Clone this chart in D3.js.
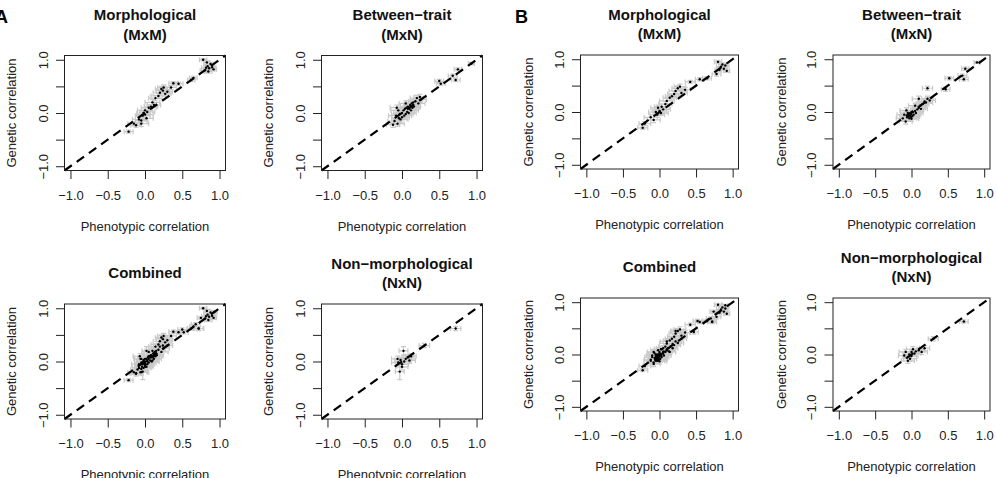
<!DOCTYPE html>
<html>
<head>
<meta charset="utf-8">
<script src="https://cdnjs.cloudflare.com/ajax/libs/d3/7.8.5/d3.min.js"></script>
<style>
	body { margin: 0; background: #fff; }
	svg { display: block; font-family: "Liberation Sans", Arial, sans-serif; }
</style>
</head>
<body>
<script>
// tick values shared by every panel
var axisTicks = [-1, -0.5, 0, 0.5, 1];
var axisLabelTicks = [-1, 0, 1];

// [phenotypic r, genetic r, phenotypic half-error, genetic half-error]
var morphA = [
	[-0.22,-0.35,0.06,0.03],[-0.15,-0.20,0.08,0.04],[-0.12,-0.23,0.07,0.04],[-0.08,-0.12,0.09,0.05],
	[-0.05,-0.20,0.10,0.05],[-0.05,-0.14,0.08,0.04],[-0.03,-0.05,0.10,0.05],[-0.02,0.00,0.09,0.05],
	[0.00,-0.03,0.11,0.05],[0.00,0.05,0.10,0.05],[0.02,-0.10,0.09,0.05],[0.03,0.02,0.10,0.04],
	[0.05,0.10,0.10,0.05],[0.08,0.12,0.09,0.04],[0.10,0.20,0.10,0.05],[0.12,0.15,0.09,0.04],
	[0.14,0.28,0.09,0.05],[0.18,0.32,0.10,0.05],[0.20,0.38,0.09,0.05],[0.22,0.45,0.08,0.05],
	[0.24,0.42,0.09,0.04],[0.25,0.48,0.08,0.05],[0.27,0.36,0.08,0.04],[0.30,0.40,0.07,0.04],
	[0.35,0.48,0.07,0.04],[0.38,0.56,0.06,0.03],[0.45,0.55,0.06,0.03],[0.62,0.62,0.05,0.03],
	[0.65,0.66,0.05,0.03],[0.78,1.00,0.05,0.02],[0.80,0.80,0.06,0.04],[0.82,0.85,0.06,0.04],
	[0.84,0.88,0.05,0.03],[0.86,0.84,0.06,0.04],[0.88,0.92,0.05,0.03],[0.85,0.78,0.05,0.03],
	[0.90,0.86,0.05,0.03],[0.83,0.95,0.04,0.03],[0.92,0.82,0.04,0.03]
];
var betweenA = [
	[-0.10,-0.15,0.09,0.05],[-0.08,-0.05,0.10,0.05],[-0.06,-0.20,0.09,0.05],[-0.05,0.05,0.10,0.05],
	[-0.04,-0.10,0.10,0.05],[-0.03,-0.02,0.11,0.05],[-0.02,-0.12,0.10,0.05],[0.00,0.00,0.11,0.05],
	[0.00,-0.08,0.10,0.05],[0.02,0.05,0.10,0.05],[0.03,-0.05,0.10,0.05],[0.04,0.08,0.10,0.05],
	[0.05,-0.02,0.10,0.05],[0.06,0.10,0.10,0.05],[0.07,0.02,0.10,0.05],[0.08,0.12,0.10,0.05],
	[0.09,0.00,0.10,0.05],[0.10,0.08,0.10,0.05],[0.11,0.15,0.09,0.05],[0.12,0.05,0.10,0.05],
	[0.13,0.18,0.09,0.05],[0.14,0.10,0.10,0.05],[0.15,0.20,0.09,0.05],[0.16,0.12,0.09,0.05],
	[0.18,0.22,0.09,0.05],[0.20,0.28,0.09,0.05],[0.22,0.18,0.09,0.05],[0.24,0.30,0.08,0.05],
	[0.25,0.25,0.08,0.05],[-0.07,0.10,0.09,0.05],[-0.12,-0.22,0.09,0.05],[0.05,0.18,0.09,0.05],
	[0.50,0.60,0.06,0.03],[0.52,0.55,0.06,0.03],[0.68,0.70,0.06,0.03],[0.72,0.62,0.06,0.03],
	[0.75,0.82,0.05,0.03],[0.93,0.93,0.04,0.02]
];
var nonmorphA = [
	[-0.05,-0.02,0.09,0.06],[-0.03,-0.19,0.06,0.15],[-0.02,0.03,0.08,0.05],[0.00,-0.05,0.09,0.06],
	[0.02,0.20,0.06,0.08],[0.03,0.00,0.09,0.05],[0.05,0.05,0.08,0.05],[0.08,0.08,0.08,0.05],
	[0.10,0.02,0.08,0.05],[0.12,0.10,0.07,0.05],[-0.06,0.05,0.08,0.05],[0.00,-0.10,0.08,0.06],
	[0.30,0.30,0.07,0.04],[0.72,0.62,0.07,0.04]
];

var morphB = [
	[-0.23,-0.30,0.07,0.03],[-0.20,-0.22,0.08,0.04],[-0.12,-0.10,0.09,0.05],[-0.08,-0.15,0.09,0.05],
	[-0.05,0.00,0.10,0.05],[-0.03,-0.05,0.10,0.05],[-0.02,0.08,0.10,0.05],[0.00,0.02,0.10,0.05],
	[0.02,-0.02,0.10,0.05],[0.03,0.10,0.10,0.05],[0.05,0.05,0.10,0.05],[0.08,0.15,0.09,0.05],
	[0.10,0.21,0.10,0.05],[0.14,0.27,0.09,0.05],[0.17,0.30,0.09,0.05],[0.20,0.34,0.09,0.05],
	[0.22,0.40,0.09,0.05],[0.25,0.45,0.08,0.05],[0.28,0.48,0.08,0.05],[0.30,0.36,0.08,0.04],
	[0.35,0.42,0.07,0.04],[0.42,0.57,0.07,0.03],[0.55,0.62,0.06,0.03],[0.65,0.64,0.06,0.03],
	[0.78,0.72,0.06,0.04],[0.80,0.95,0.05,0.03],[0.82,0.80,0.06,0.04],[0.84,0.86,0.06,0.04],
	[0.86,0.90,0.05,0.03],[0.88,0.82,0.05,0.03],[0.90,0.88,0.05,0.03],[0.92,0.78,0.04,0.03]
];
var betweenB = [
	[-0.12,-0.12,0.09,0.05],[-0.10,-0.05,0.10,0.05],[-0.08,-0.18,0.09,0.05],[-0.06,-0.10,0.10,0.05],
	[-0.05,-0.02,0.10,0.05],[-0.04,-0.08,0.10,0.05],[-0.03,-0.12,0.10,0.05],[-0.02,-0.06,0.10,0.05],
	[-0.01,-0.10,0.10,0.05],[0.00,-0.04,0.10,0.05],[0.00,-0.13,0.10,0.05],[0.01,-0.08,0.10,0.05],
	[0.02,0.00,0.10,0.05],[0.03,-0.05,0.10,0.05],[0.05,0.02,0.10,0.05],[0.06,-0.02,0.10,0.05],
	[0.08,0.05,0.09,0.05],[0.10,0.08,0.09,0.05],[0.12,0.12,0.09,0.05],[0.13,0.06,0.09,0.05],
	[0.15,0.15,0.09,0.05],[0.18,0.20,0.09,0.05],[0.20,0.18,0.09,0.05],[0.22,0.25,0.08,0.05],
	[0.25,0.22,0.08,0.05],[0.10,0.25,0.09,0.05],[0.05,0.12,0.09,0.05],[-0.07,0.03,0.09,0.05],
	[0.22,0.45,0.07,0.04],[0.47,0.43,0.06,0.04],[0.52,0.64,0.06,0.03],[0.70,0.69,0.06,0.03],
	[0.72,0.62,0.06,0.03],[0.74,0.82,0.05,0.03],[0.90,0.94,0.04,0.02]
];
var nonmorphB = [
	[-0.08,0.05,0.09,0.05],[-0.05,-0.12,0.09,0.05],[-0.03,0.00,0.09,0.05],[-0.02,-0.08,0.09,0.05],
	[0.00,0.05,0.09,0.05],[0.00,-0.03,0.09,0.05],[0.02,0.10,0.09,0.05],[0.04,0.02,0.09,0.05],
	[0.06,0.06,0.08,0.05],[0.10,0.08,0.08,0.05],[0.14,0.05,0.08,0.05],[0.18,0.12,0.07,0.05],
	[-0.10,-0.02,0.08,0.05],[0.30,0.30,0.07,0.04],[0.72,0.63,0.06,0.03]
];

var titles = [
	["Morphological", "(MxM)"],
	["Between\u2212trait", "(MxN)"],
	["Combined"],
	["Non\u2212morphological", "(NxN)"]
];

var width = 996, height = 478;
var svg = d3.select("body").append("svg").attr("width", width).attr("height", height);

// box positions of each panel
var panels = [
	{ data: morphA, title: titles[0], left: 64.5, top: 55.5, w: 161, h: 115, ylab: 49 },
	{ data: betweenA, title: titles[1], left: 321.5, top: 55.5, w: 161, h: 115, ylab: 49 },
	{ data: morphA.concat(betweenA, nonmorphA), title: titles[2], left: 64.5, top: 304, w: 161, h: 115, ylab: 49 },
	{ data: nonmorphA, title: titles[3], left: 321.5, top: 304, w: 161, h: 115, ylab: 49 },
	{ data: morphB, title: titles[0], left: 580.5, top: 55, w: 158, h: 114, ylab: 47.5 },
	{ data: betweenB, title: titles[1], left: 833, top: 55, w: 157, h: 114, ylab: 47.5 },
	{ data: morphB.concat(betweenB, nonmorphB), title: titles[2], left: 580.5, top: 298, w: 158, h: 113, ylab: 47.5 },
	{ data: nonmorphB, title: titles[3], left: 833, top: 298, w: 157, h: 113, ylab: 47.5 }
];

var fmt = function(d) { return d3.format(".1f")(d).replace("-", "\u2212"); };
var barColor = "#c9c9c9";

var drawPanel = function(p) {
	var x = d3.scaleLinear().domain([-1.08, 1.08]).range([p.left, p.left + p.w]);
	var y = d3.scaleLinear().domain([-1.08, 1.08]).range([p.top + p.h, p.top]);
	var g = svg.append("g");

	// x axis
	var xa = g.append("g").attr("transform", "translate(0," + (p.top + p.h) + ")")
		.call(d3.axisBottom(x).tickValues(axisTicks).tickSize(8.5).tickFormat(fmt));
	xa.select(".domain").remove();
	xa.selectAll("line").attr("stroke", "#222");
	xa.selectAll("text").attr("y", 29).attr("dy", 0)
		.attr("font-size", 13).attr("fill", "#222").style("font-family", "Liberation Sans, Arial, sans-serif");

	// y axis, labels rotated like R
	var ya = g.append("g").attr("transform", "translate(" + p.left + ",0)")
		.call(d3.axisLeft(y).tickValues(axisTicks).tickSize(8.5)
			.tickFormat(function(d) { return axisLabelTicks.indexOf(d) >= 0 ? fmt(d) : ""; }));
	ya.select(".domain").remove();
	ya.selectAll("line").attr("stroke", "#222");
	ya.selectAll("text").attr("transform", "rotate(-90)").attr("x", 0).attr("y", -17).attr("dy", 0)
		.attr("text-anchor", "middle").attr("font-size", 13).attr("fill", "#222")
		.style("font-family", "Liberation Sans, Arial, sans-serif");

	// error bars
	var bars = g.append("g").attr("stroke", barColor).attr("stroke-width", 1.2).attr("fill", "none");
	var cap = 2.5;
	p.data.forEach(function(d) {
		var cx = x(d[0]), cy = y(d[1]);
		var x0 = x(d[0] - d[2]), x1 = x(d[0] + d[2]);
		var y0 = y(d[1] - d[3]), y1 = y(d[1] + d[3]);
		bars.append("path").attr("d",
			"M" + x0 + "," + cy + "H" + x1 +
			"M" + x0 + "," + (cy - cap) + "V" + (cy + cap) +
			"M" + x1 + "," + (cy - cap) + "V" + (cy + cap) +
			"M" + cx + "," + y0 + "V" + y1 +
			"M" + (cx - cap) + "," + y0 + "H" + (cx + cap) +
			"M" + (cx - cap) + "," + y1 + "H" + (cx + cap));
	});

	// points
	g.append("g").selectAll("circle").data(p.data).enter().append("circle")
		.attr("cx", function(d) { return x(d[0]); })
		.attr("cy", function(d) { return y(d[1]); })
		.attr("r", 1.2)
		.attr("fill", "#000");

	// 1:1 line
	var line = d3.line().x(function(d) { return x(d); }).y(function(d) { return y(d); });
	g.append("path").datum([-1.08, 1.08]).attr("d", line)
		.attr("stroke", "#000").attr("stroke-width", 2.2).attr("stroke-dasharray", "9,6").attr("fill", "none");

	// box
	g.append("rect").attr("x", p.left).attr("y", p.top).attr("width", p.w).attr("height", p.h)
		.attr("fill", "none").attr("stroke", "#222").attr("stroke-width", 1);

	// title
	var cx = p.left + p.w / 2;
	var tt = g.append("text").attr("text-anchor", "middle").attr("font-size", 15)
		.attr("font-weight", "bold").attr("fill", "#111");
	if (p.title.length == 2) {
		tt.append("tspan").attr("x", cx).attr("y", p.top - 35.5).text(p.title[0]);
		tt.append("tspan").attr("x", cx).attr("y", p.top - 16).text(p.title[1]);
	} else {
		tt.append("tspan").attr("x", cx).attr("y", p.top - 26.5).text(p.title[0]);
	}

	// axis titles
	g.append("text").attr("x", cx).attr("y", p.top + p.h + 60).attr("text-anchor", "middle")
		.attr("font-size", 13).attr("fill", "#222").text("Phenotypic correlation");
	g.append("text").attr("transform", "translate(" + (p.left - p.ylab) + "," + (p.top + p.h / 2) + ") rotate(-90)")
		.attr("text-anchor", "middle").attr("font-size", 13).attr("fill", "#222").text("Genetic correlation");
};

panels.forEach(drawPanel);

// figure part letters
svg.append("text").attr("x", -5).attr("y", 23).attr("font-size", 18).attr("font-weight", "bold").text("A");
svg.append("text").attr("x", 515).attr("y", 23).attr("font-size", 18).attr("font-weight", "bold").text("B");
</script>
</body>
</html>
